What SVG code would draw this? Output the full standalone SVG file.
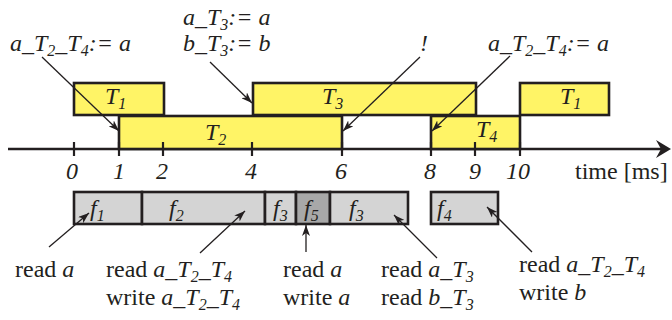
<svg xmlns="http://www.w3.org/2000/svg" width="672" height="320" viewBox="0 0 672 320" font-family="Liberation Serif, Times New Roman, serif">
<defs>
<marker id="ah" markerUnits="userSpaceOnUse" markerWidth="12" markerHeight="8" refX="11" refY="4" orient="auto">
<path d="M0,0 L11,4 L0,8 L3,4 z" fill="#231f20"/>
</marker>
</defs>
<rect x="0" y="0" width="672" height="320" fill="#ffffff"/>

<g id="axis" stroke="#231f20">
<line x1="8" y1="149" x2="662" y2="149" stroke-width="2.6"/>
<polygon points="671,149 656,140 661,149 656,158" fill="#231f20" stroke="none"/>
</g>

<g id="tasks" fill="#fff466" stroke="#231f20" stroke-width="2.6">
<g id="T1a"><rect x="74" y="83" width="90" height="32"/><text font-family="Liberation Serif" font-size="24" font-style="italic" fill="#231f20" stroke="none" x="105" y="104">T<tspan font-size="16" dy="5">1</tspan></text></g>
<g id="T2"><rect x="119" y="116" width="223" height="33"/><text font-family="Liberation Serif" font-size="24" font-style="italic" fill="#231f20" stroke="none" x="205" y="140">T<tspan font-size="16" dy="5">2</tspan></text></g>
<g id="T3"><rect x="253" y="83" width="223" height="32"/><text font-family="Liberation Serif" font-size="24" font-style="italic" fill="#231f20" stroke="none" x="322" y="104">T<tspan font-size="16" dy="5">3</tspan></text></g>
<g id="T4"><rect x="431" y="116" width="89" height="33"/><text font-family="Liberation Serif" font-size="24" font-style="italic" fill="#231f20" stroke="none" x="476" y="137">T<tspan font-size="16" dy="5">4</tspan></text></g>
<g id="T1b"><rect x="520" y="83" width="89" height="32"/><text font-family="Liberation Serif" font-size="24" font-style="italic" fill="#231f20" stroke="none" x="560" y="104">T<tspan font-size="16" dy="5">1</tspan></text></g>
</g>

<g id="ticks" stroke="#231f20" stroke-width="2.2">
<line x1="74" y1="142" x2="74" y2="156"/>
<line x1="119" y1="142" x2="119" y2="156"/>
<line x1="163" y1="142" x2="163" y2="156"/>
<line x1="252" y1="142" x2="252" y2="156"/>
<line x1="342" y1="142" x2="342" y2="156"/>
<line x1="431" y1="142" x2="431" y2="156"/>
<line x1="475" y1="142" x2="475" y2="156"/>
<line x1="520" y1="142" x2="520" y2="156"/>
</g>
<g id="tick-labels">
<text font-family="Liberation Serif" font-size="24" font-style="italic" fill="#231f20" text-anchor="middle" x="72" y="179">0</text>
<text font-family="Liberation Serif" font-size="24" font-style="italic" fill="#231f20" text-anchor="middle" x="119" y="179">1</text>
<text font-family="Liberation Serif" font-size="24" font-style="italic" fill="#231f20" text-anchor="middle" x="162" y="179">2</text>
<text font-family="Liberation Serif" font-size="24" font-style="italic" fill="#231f20" text-anchor="middle" x="251" y="179">4</text>
<text font-family="Liberation Serif" font-size="24" font-style="italic" fill="#231f20" text-anchor="middle" x="341" y="179">6</text>
<text font-family="Liberation Serif" font-size="24" font-style="italic" fill="#231f20" text-anchor="middle" x="430" y="179">8</text>
<text font-family="Liberation Serif" font-size="24" font-style="italic" fill="#231f20" text-anchor="middle" x="475" y="179">9</text>
<text font-family="Liberation Serif" font-size="24" font-style="italic" fill="#231f20" text-anchor="middle" x="518" y="179">10</text>
<text font-family="Liberation Serif" font-size="24" fill="#231f20" x="575" y="179">time [ms]</text>
</g>

<g id="functions" fill="#d4d4d4" stroke="#231f20" stroke-width="2.6">
<g id="f1"><rect x="74" y="192" width="68" height="32"/><text font-family="Liberation Serif" font-size="24" font-style="italic" fill="#231f20" stroke="none" x="90" y="216">f<tspan font-size="16" dy="5">1</tspan></text></g>
<g id="f2"><rect x="142" y="192" width="123" height="32"/><text font-family="Liberation Serif" font-size="24" font-style="italic" fill="#231f20" stroke="none" x="169" y="216">f<tspan font-size="16" dy="5">2</tspan></text></g>
<g id="f3a"><rect x="265" y="192" width="31" height="32"/><text font-family="Liberation Serif" font-size="24" font-style="italic" fill="#231f20" stroke="none" x="273" y="216">f<tspan font-size="16" dy="5">3</tspan></text></g>
<g id="f5"><rect x="296" y="192" width="34" height="32" fill="#a8a8a8"/><text font-family="Liberation Serif" font-size="24" font-style="italic" fill="#231f20" stroke="none" x="304" y="216">f<tspan font-size="16" dy="5">5</tspan></text></g>
<g id="f3b"><rect x="330" y="192" width="78" height="32"/><text font-family="Liberation Serif" font-size="24" font-style="italic" fill="#231f20" stroke="none" x="349" y="216">f<tspan font-size="16" dy="5">3</tspan></text></g>
<g id="f4"><rect x="431" y="192" width="67" height="32"/><text font-family="Liberation Serif" font-size="24" font-style="italic" fill="#231f20" stroke="none" x="437" y="216">f<tspan font-size="16" dy="5">4</tspan></text></g>
</g>

<g id="top-labels">
<text font-family="Liberation Serif" font-size="24" font-style="italic" fill="#231f20" x="10" y="51">a_T<tspan font-size="16" dy="5">2</tspan><tspan dy="-5">_T</tspan><tspan font-size="16" dy="5">4</tspan><tspan dy="-5">:= a</tspan></text>
<text font-family="Liberation Serif" font-size="24" font-style="italic" fill="#231f20" x="183" y="25">a_T<tspan font-size="16" dy="5">3</tspan><tspan dy="-5">:= a</tspan></text>
<text font-family="Liberation Serif" font-size="24" font-style="italic" fill="#231f20" x="183" y="51">b_T<tspan font-size="16" dy="5">3</tspan><tspan dy="-5">:= b</tspan></text>
<text font-family="Liberation Serif" font-size="24" font-style="italic" fill="#231f20" x="420" y="51">!</text>
<text font-family="Liberation Serif" font-size="24" font-style="italic" fill="#231f20" x="488" y="51">a_T<tspan font-size="16" dy="5">2</tspan><tspan dy="-5">_T</tspan><tspan font-size="16" dy="5">4</tspan><tspan dy="-5">:= a</tspan></text>
</g>

<g id="bottom-labels">
<text font-family="Liberation Serif" font-size="24" fill="#231f20" x="15" y="277">read <tspan font-style="italic">a</tspan></text>
<text font-family="Liberation Serif" font-size="24" fill="#231f20" x="106" y="277">read <tspan font-style="italic">a_T</tspan><tspan font-style="italic" font-size="16" dy="5">2</tspan><tspan font-style="italic" dy="-5">_T</tspan><tspan font-style="italic" font-size="16" dy="5">4</tspan></text>
<text font-family="Liberation Serif" font-size="24" fill="#231f20" x="106" y="305">write <tspan font-style="italic">a_T</tspan><tspan font-style="italic" font-size="16" dy="5">2</tspan><tspan font-style="italic" dy="-5">_T</tspan><tspan font-style="italic" font-size="16" dy="5">4</tspan></text>
<text font-family="Liberation Serif" font-size="24" fill="#231f20" x="283" y="277">read <tspan font-style="italic">a</tspan></text>
<text font-family="Liberation Serif" font-size="24" fill="#231f20" x="283" y="305">write <tspan font-style="italic">a</tspan></text>
<text font-family="Liberation Serif" font-size="24" fill="#231f20" x="381" y="277">read <tspan font-style="italic">a_T</tspan><tspan font-style="italic" font-size="16" dy="5">3</tspan></text>
<text font-family="Liberation Serif" font-size="24" fill="#231f20" x="381" y="305">read <tspan font-style="italic">b_T</tspan><tspan font-style="italic" font-size="16" dy="5">3</tspan></text>
<text font-family="Liberation Serif" font-size="24" fill="#231f20" x="519" y="272">read <tspan font-style="italic">a_T</tspan><tspan font-style="italic" font-size="16" dy="5">2</tspan><tspan font-style="italic" dy="-5">_T</tspan><tspan font-style="italic" font-size="16" dy="5">4</tspan></text>
<text font-family="Liberation Serif" font-size="24" fill="#231f20" x="519" y="300">write <tspan font-style="italic">b</tspan></text>
</g>

<g id="connectors" stroke="#231f20" stroke-width="1.3" fill="none" marker-end="url(#ah)">
<line x1="42" y1="57" x2="119" y2="131"/>
<line x1="210" y1="62" x2="252" y2="103"/>
<line x1="420" y1="57" x2="343" y2="131"/>
<line x1="510" y1="56" x2="432" y2="131"/>
<line x1="49" y1="247" x2="89" y2="213"/>
<line x1="200" y1="253" x2="245" y2="211"/>
<line x1="306" y1="252" x2="306" y2="225"/>
<line x1="437" y1="258" x2="394" y2="215"/>
<line x1="532" y1="252" x2="487" y2="207"/>
</g>
</svg>
